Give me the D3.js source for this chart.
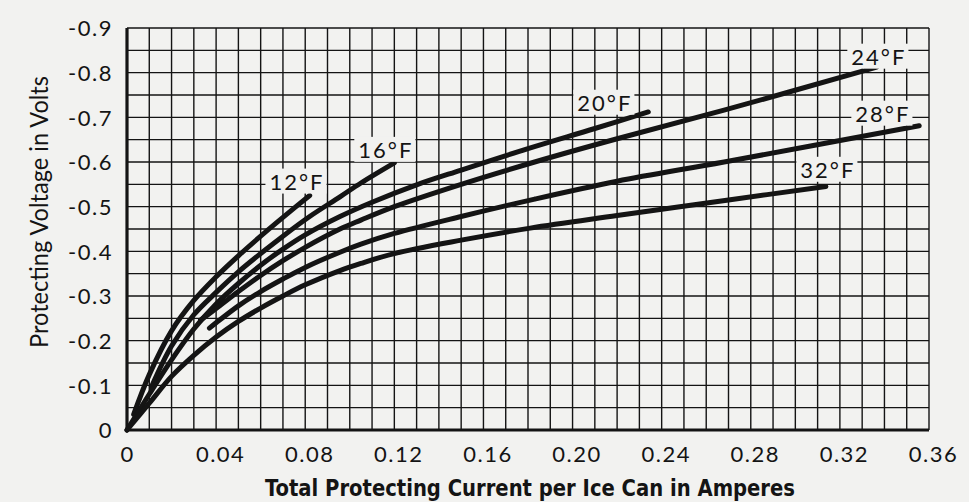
<!DOCTYPE html>
<html>
<head>
<meta charset="utf-8">
<script src="https://cdn.jsdelivr.net/npm/d3@7"></script>
<style>
  html, body { margin: 0; padding: 0; background: #f2f2f0; }
  svg { display: block; }
</style>
</head>
<body>
<svg id="chart" width="969" height="502"></svg>
<script>
// ---------- DATA ----------
const xTickValues = [0, 0.04, 0.08, 0.12, 0.16, 0.20, 0.24, 0.28, 0.32, 0.36];
const xTickLabels = ["0", "0.04", "0.08", "0.12", "0.16", "0.20", "0.24", "0.28", "0.32", "0.36"];
const yTickValues = [0, -0.1, -0.2, -0.3, -0.4, -0.5, -0.6, -0.7, -0.8, -0.9];
const yTickLabels = ["0", "-0.1", "-0.2", "-0.3", "-0.4", "-0.5", "-0.6", "-0.7", "-0.8", "-0.9"];

const seriesNames = ["12°F", "16°F", "20°F", "24°F", "28°F", "32°F"];

// current (A), voltage (V)
const curve12F = [[0.003,-0.035],[0.01,-0.124],[0.02,-0.222],[0.03,-0.29],[0.04,-0.343],[0.05,-0.39],[0.06,-0.434],[0.07,-0.476],[0.082,-0.525]];
const curve16F = [[0.011,-0.097],[0.02,-0.188],[0.03,-0.258],[0.04,-0.308],[0.05,-0.354],[0.06,-0.395],[0.07,-0.434],[0.082,-0.478],[0.0956,-0.522],[0.105,-0.553],[0.12,-0.598]];
const curve20F = [[0,0],[0.01,-0.08],[0.02,-0.157],[0.03,-0.226],[0.04,-0.282],[0.05,-0.328],[0.06,-0.369],[0.07,-0.405],[0.08,-0.437],[0.0956,-0.478],[0.11,-0.51],[0.13,-0.549],[0.15,-0.582],[0.18,-0.63],[0.21,-0.675],[0.234,-0.712]];
const curve24F = [[0.033,-0.246],[0.04,-0.272],[0.05,-0.31],[0.06,-0.346],[0.07,-0.379],[0.08,-0.409],[0.0956,-0.45],[0.105,-0.47],[0.12,-0.5],[0.15,-0.55],[0.183,-0.6],[0.22,-0.652],[0.268,-0.716],[0.3365,-0.8125]];
const curve28F = [[0.037,-0.228],[0.04,-0.24],[0.05,-0.278],[0.06,-0.31],[0.07,-0.338],[0.08,-0.364],[0.0956,-0.398],[0.105,-0.416],[0.12,-0.44],[0.15,-0.478],[0.183,-0.517],[0.22,-0.557],[0.268,-0.6],[0.3556,-0.681]];
const curve32F = [[0,0],[0.01,-0.06],[0.02,-0.12],[0.03,-0.167],[0.04,-0.208],[0.05,-0.243],[0.06,-0.273],[0.07,-0.3],[0.08,-0.325],[0.0956,-0.357],[0.105,-0.373],[0.12,-0.395],[0.15,-0.425],[0.181,-0.452],[0.22,-0.48],[0.27,-0.515],[0.3137,-0.545]];

// label anchor points (current, voltage) for each series label
const labelCurrent = [0.0763, 0.1162, 0.2145, 0.3375, 0.3393, 0.3146];
const labelVoltage = [-0.556, -0.627, -0.7325, -0.8356, -0.708, -0.5824];

const curves = [curve12F, curve16F, curve20F, curve24F, curve28F, curve32F];

// ---------- LAYOUT ----------
const bg = "#f2f2f0";
const ink = "#141414";
const svg = d3.select("#chart");
svg.append("rect").attr("width", 969).attr("height", 502).attr("fill", bg);

const x = d3.scaleLinear().domain([0, 0.36]).range([127, 929]);
const y = d3.scaleLinear().domain([0, -0.9]).range([430, 28]);

// grid
const gx = d3.range(0, 37).map(i => i / 100);
const gy = d3.range(0, 19).map(i => -i / 20);
const grid = svg.append("g");
grid.selectAll("line.vx").data(gx).enter().append("line")
  .attr("x1", d => x(d)).attr("x2", d => x(d))
  .attr("y1", y(0)).attr("y2", y(-0.9))
  .attr("stroke", ink).attr("stroke-width", 1.4);
grid.selectAll("line.hy").data(gy).enter().append("line")
  .attr("y1", d => y(d)).attr("y2", d => y(d))
  .attr("x1", x(0)).attr("x2", x(0.36))
  .attr("stroke", ink).attr("stroke-width", 1.4);

// heavier frame on left & bottom
svg.append("line").attr("x1", x(0)).attr("x2", x(0)).attr("y1", y(0) + 1.5).attr("y2", y(-0.9))
  .attr("stroke", ink).attr("stroke-width", 3.2);
svg.append("line").attr("x1", x(0) - 1.5).attr("x2", x(0.36)).attr("y1", y(0)).attr("y2", y(0))
  .attr("stroke", ink).attr("stroke-width", 3.2);

const tickFont = "'Century Gothic','Lato','DejaVu Sans',sans-serif";

// axes (labels only)
const xAxis = d3.axisBottom(x).tickValues(xTickValues)
  .tickFormat((d, i) => xTickLabels[i]).tickSize(0).tickPadding(0);
const gX = svg.append("g").attr("transform", `translate(0,${y(0)})`).call(xAxis);
gX.select(".domain").remove();
gX.selectAll("text")
  .attr("y", 32).attr("dy", 0)
  .attr("dx", (d, i) => i === 0 ? 0 : 4)
  .attr("font-family", tickFont)
  .attr("font-size", 22).attr("letter-spacing", 1.5).attr("fill", ink);

const yAxis = d3.axisLeft(y).tickValues(yTickValues)
  .tickFormat((d, i) => yTickLabels[i]).tickSize(0).tickPadding(0);
const gY = svg.append("g").attr("transform", `translate(${113},0)`).call(yAxis);
gY.select(".domain").remove();
gY.selectAll("text")
  .attr("x", 0).attr("dy", "0.35em")
  .attr("font-family", tickFont)
  .attr("font-size", 22).attr("letter-spacing", 1.5).attr("fill", ink);

// axis titles
svg.append("text")
  .attr("x", 530).attr("y", 496)
  .attr("text-anchor", "middle")
  .attr("font-family", "'Liberation Sans Narrow','DejaVu Sans Condensed',sans-serif")
  .attr("font-weight", "bold").attr("font-size", 23)
  .attr("textLength", 530).attr("lengthAdjust", "spacingAndGlyphs")
  .attr("fill", ink)
  .text("Total Protecting Current per Ice Can in Amperes");

svg.append("text")
  .attr("transform", "translate(48,212) rotate(-90)")
  .attr("text-anchor", "middle")
  .attr("font-family", "'Lato','DejaVu Sans',sans-serif")
  .attr("font-size", 25)
  .attr("textLength", 272).attr("lengthAdjust", "spacingAndGlyphs")
  .attr("fill", ink)
  .text("Protecting Voltage in Volts");

// curves
const line = d3.line().x(d => x(d[0])).y(d => y(d[1])).curve(d3.curveCatmullRom.alpha(0.5));
svg.append("g").selectAll("path").data(curves).enter().append("path")
  .attr("d", line)
  .attr("fill", "none")
  .attr("stroke", ink)
  .attr("stroke-width", 5)
  .attr("stroke-linecap", "round");

// series labels with paper-coloured backing
const lab = svg.append("g").selectAll("g").data(seriesNames).enter().append("g")
  .attr("transform", (d, i) => `translate(${x(labelCurrent[i])},${y(labelVoltage[i])})`);
lab.append("text")
  .attr("text-anchor", "middle").attr("dy", "0.36em")
  .attr("font-family", tickFont)
  .attr("font-size", 22).attr("letter-spacing", 2).attr("fill", ink)
  .text(d => d);
lab.each(function () {
  const g = d3.select(this);
  const bb = g.select("text").node().getBBox();
  g.insert("rect", "text")
    .attr("x", bb.x - 4).attr("y", bb.y + 1)
    .attr("width", bb.width + 6).attr("height", bb.height - 2)
    .attr("fill", bg);
});
</script>
</body>
</html>
